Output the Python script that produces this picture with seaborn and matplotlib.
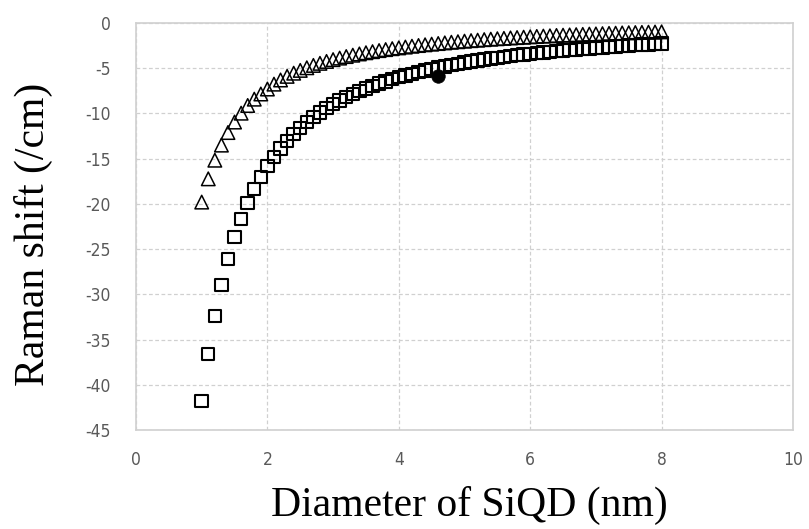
import matplotlib
matplotlib.use("Agg")
import matplotlib.pyplot as plt
import seaborn as sns
import pandas as pd

# ---- data ----
diameter = [1.0, 1.1, 1.2, 1.3, 1.4, 1.5, 1.6, 1.7, 1.8, 1.9,
            2.0, 2.1, 2.2, 2.3, 2.4, 2.5, 2.6, 2.7, 2.8, 2.9,
            3.0, 3.1, 3.2, 3.3, 3.4, 3.5, 3.6, 3.7, 3.8, 3.9,
            4.0, 4.1, 4.2, 4.3, 4.4, 4.5, 4.6, 4.7, 4.8, 4.9,
            5.0, 5.1, 5.2, 5.3, 5.4, 5.5, 5.6, 5.7, 5.8, 5.9,
            6.0, 6.1, 6.2, 6.3, 6.4, 6.5, 6.6, 6.7, 6.8, 6.9,
            7.0, 7.1, 7.2, 7.3, 7.4, 7.5, 7.6, 7.7, 7.8, 7.9, 8.0]

shift_squares = [-41.80, -36.58, -32.38, -28.95, -26.10, -23.69, -21.65, -19.89, -18.36, -17.02,
                 -15.84, -14.79, -13.86, -13.02, -12.27, -11.59, -10.97, -10.41, -9.89, -9.42,
                 -8.98, -8.58, -8.20, -7.86, -7.54, -7.24, -6.96, -6.69, -6.45, -6.22,
                 -6.00, -5.80, -5.61, -5.42, -5.25, -5.09, -4.94, -4.79, -4.65, -4.52,
                 -4.39, -4.27, -4.16, -4.05, -3.94, -3.84, -3.75, -3.66, -3.57, -3.48,
                 -3.40, -3.32, -3.25, -3.18, -3.11, -3.04, -2.98, -2.91, -2.85, -2.80,
                 -2.74, -2.69, -2.64, -2.58, -2.54, -2.49, -2.44, -2.40, -2.36, -2.31, -2.27]

shift_triangles = [-19.80, -17.23, -15.17, -13.50, -12.11, -10.95, -9.97, -9.12, -8.42, -7.85,
                   -7.30, -6.76, -6.30, -5.90, -5.55, -5.24, -4.95, -4.69, -4.46, -4.25,
                   -4.05, -3.88, -3.71, -3.56, -3.42, -3.29, -3.17, -3.05, -2.94, -2.84,
                   -2.75, -2.66, -2.57, -2.49, -2.41, -2.34, -2.27, -2.20, -2.13, -2.07,
                   -2.01, -1.95, -1.90, -1.84, -1.79, -1.74, -1.70, -1.65, -1.61, -1.57,
                   -1.53, -1.49, -1.45, -1.42, -1.38, -1.35, -1.32, -1.29, -1.26, -1.23,
                   -1.21, -1.18, -1.15, -1.13, -1.10, -1.08, -1.06, -1.04, -1.02, -1.00, -0.98]

exp_diameter = [4.6]
exp_shift = [-5.9]

x_ticks = [0, 2, 4, 6, 8, 10]
y_ticks = [0, -5, -10, -15, -20, -25, -30, -35, -40, -45]

x_label = "Diameter of SiQD (nm)"
y_label = "Raman shift (/cm)"

# ---- plot ----
sns.set_theme(style="white")
plt.rcParams["font.family"] = ["Liberation Sans Narrow", "DejaVu Sans"]
plt.rcParams["font.stretch"] = "condensed"

df_sq = pd.DataFrame({"d": diameter, "shift": shift_squares})
df_tr = pd.DataFrame({"d": diameter, "shift": shift_triangles})
df_ex = pd.DataFrame({"d": exp_diameter, "shift": exp_shift})

fig = plt.figure(figsize=(8.09, 5.29), dpi=100)
ax = fig.add_axes([136 / 809, 1 - 430 / 529, 657 / 809, 407 / 529])

sns.scatterplot(data=df_tr, x="d", y="shift", ax=ax, marker="^", s=95,
                facecolor="none", edgecolor="black", linewidth=1.1, zorder=3)
sns.scatterplot(data=df_sq, x="d", y="shift", ax=ax, marker="s", s=80,
                facecolor="none", edgecolor="black", linewidth=1.5, zorder=3)
sns.scatterplot(data=df_ex, x="d", y="shift", ax=ax, marker="o", s=95,
                color="black", edgecolor="black", linewidth=0.5, zorder=4)

ax.set_xlim(0, 10)
ax.set_ylim(-45, 0)
ax.set_xticks(x_ticks)
ax.set_yticks(y_ticks)
ax.set_xticklabels([str(t) for t in x_ticks])
ax.set_yticklabels([str(t) for t in y_ticks])
ax.tick_params(axis="both", length=0, labelsize=12.5, colors="#595959")
ax.tick_params(axis="y", pad=18)
ax.tick_params(axis="x", pad=15)

ax.grid(True, color="#d0d0d0", linestyle=(0, (3, 2)), linewidth=0.9)
ax.set_axisbelow(True)
for sp in ax.spines.values():
    sp.set_visible(True)
    sp.set_color("#d0d0d0")
    sp.set_linewidth(1.2)

serif = ["Liberation Serif", "DejaVu Serif"]
ax.set_xlabel(x_label, fontsize=30, family=serif, stretch="normal", color="black")
ax.set_ylabel(y_label, fontsize=30, family=serif, stretch="normal", color="black")
ax.xaxis.label.set_va("center")
ax.yaxis.label.set_va("center")
ax.xaxis.set_label_coords(469 / 809, 1 - 505 / 529, transform=fig.transFigure)
ax.yaxis.set_label_coords(33 / 809, 1 - 234 / 529, transform=fig.transFigure)

fig.savefig("out.png", dpi=100, facecolor="white")
